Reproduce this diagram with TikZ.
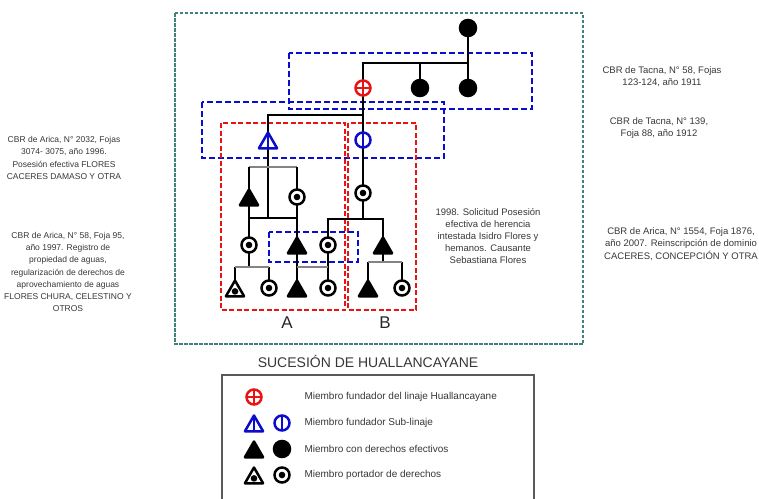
\documentclass[tikz,border=0pt]{standalone}
\usepackage{fontspec}
\setmainfont{Liberation Sans}
\usetikzlibrary{shapes.geometric,backgrounds}

\definecolor{tealbox}{RGB}{64,130,122}
\definecolor{redbox}{RGB}{232,20,20}
\definecolor{bluebox}{RGB}{12,12,205}
\definecolor{linegray}{RGB}{132,132,132}
\definecolor{txtgray}{RGB}{55,55,55}

\begin{document}
\begin{tikzpicture}[
    x=1pt, y=-1pt,
    every node/.style={align=center, text=txtgray},
    sym/.style={inner sep=0pt, outer sep=0pt, line width=2.5pt, draw=black},
    circ/.style={sym, circle, minimum size=15pt},
    tri/.style={sym, regular polygon, regular polygon sides=3, minimum size=21pt, line join=round},
    effTri/.style={tri, fill=black},
    effCirc/.style={circ, fill=black, minimum size=16pt},
    portCirc/.style={circ, fill=white, path picture={\fill[black] (path picture bounding box.center) circle (3.3pt);}},
    portTri/.style={tri, fill=white, path picture={\fill[black] ([yshift=-3pt]path picture bounding box.center) circle (3.3pt);}},
    subTri/.style={tri, draw=bluebox, fill=white, path picture={\draw[bluebox, line width=2.2pt] (path picture bounding box.north) -- (path picture bounding box.south);}},
    subCirc/.style={circ, draw=bluebox, fill=white, path picture={\draw[bluebox, line width=2.2pt] (path picture bounding box.north) -- (path picture bounding box.south);}},
    founder/.style={circ, draw=redbox, fill=white, path picture={\draw[redbox, line width=2.2pt] (path picture bounding box.north) -- (path picture bounding box.south) (path picture bounding box.west) -- (path picture bounding box.east);}},
    conn/.style={draw=black, line width=2.4pt},
    gconn/.style={draw=linegray, line width=2.4pt},
    boxTeal/.style={draw=tealbox, line width=2.2pt, dash pattern=on 3.5pt off 1.5pt},
    boxBlue/.style={draw=bluebox, line width=2pt, dash pattern=on 6pt off 3pt},
    boxRed/.style={draw=redbox, line width=2pt, dash pattern=on 5pt off 2.5pt},
    legbox/.style={draw=black!65, line width=1.2pt},
    note/.style={font=\fontsize{8.5}{12.3}\selectfont},
    rnote/.style={font=\fontsize{9.5}{12.3}\selectfont},
    mnote/.style={font=\fontsize{9.5}{12}\selectfont},
    legtext/.style={anchor=west, font=\fontsize{10}{11}\selectfont},
    branch/.style={font=\fontsize{17}{17}\selectfont, text=black!85}
]
\useasboundingbox (0,0) rectangle (759,498);

\node [effCirc] (anc) at (468,28) {};
\node [founder] (fnd) at (363,88) {};
\node [effCirc] (sib1) at (420,88) {};
\node [effCirc] (sib2) at (468,88) {};
\node [subTri] (subA) at (268,143) {};
\node [subCirc] (subB) at (363,140) {};
\node [effTri] (a1) at (249,200) {};
\node [portCirc] (a2) at (297,197) {};
\node [portCirc] (a3) at (249,245) {};
\node [effTri] (a4) at (297,248) {};
\node [portCirc] (a5) at (328,245) {};
\node [portTri] (a6) at (235,291) {};
\node [portCirc] (a7) at (269,288) {};
\node [effTri] (a8) at (297,291) {};
\node [portCirc] (a9) at (328,288) {};
\node [portCirc] (b1) at (363,193) {};
\node [effTri] (b2) at (383,248) {};
\node [effTri] (b3) at (368,291) {};
\node [portCirc] (b4) at (402,288) {};

\coordinate (jTop) at (468,63);
\coordinate (jSub) at (363,115);
\coordinate (jA) at (268,167);
\coordinate (jA2) at (268,218);
\coordinate (jA3) at (249,267);
\coordinate (jB) at (363,219);
\coordinate (jB2) at (383,262);

\begin{scope}[on background layer]
\draw [boxTeal] (175,13) rectangle (583,344);
\draw [boxBlue] (289,53) rectangle (532,109);
\draw [boxBlue] (202,102) rectangle (444,158);
\draw [boxRed] (221,123) rectangle (345,310);
\draw [boxRed] (348,123) rectangle (416,310);
\draw [boxBlue] (269,232) rectangle (358,262);

\draw [conn] (anc.center) -- (sib2.center);
\draw [conn] (fnd.center) |- (jTop);
\draw [conn] (sib1.center) -- (sib1.center |- jTop);
\draw [conn] (fnd.center) -- (subB.center) -- (b1.center) -- (jB);
\draw [conn] (subA.center) |- (jSub);
\draw [conn] (subA.center) -- (jA2);
\draw [gconn] (a1.center |- jA) -- (a2.center |- jA);
\draw [conn] (a1.center |- jA) -- (a1.center) -- (a3.center) -- (a3.center |- jA3);
\draw [conn] (a2.center |- jA) -- (a2.center) -- (a4.center) -- (a8.center);
\draw [conn] (a1.center |- jA2) -- (a2.center |- jA2);
\draw [conn] (a9.center) -- (a5.center) |- (jB) -| (b2.center);
\draw [conn] (b2.center) -- (jB2);
\draw [conn] (a6.center) -- (a6.center |- jA3);
\draw [conn] (a7.center) -- (a7.center |- jA3);
\draw [gconn] (a6.center |- jA3) -- (a7.center |- jA3);
\draw [gconn] (a4.center |- jA3) -- (a5.center |- jA3);
\draw [conn] (b3.center) -- (b3.center |- jB2);
\draw [conn] (b4.center) -- (b4.center |- jB2);
\draw [gconn] (b3.center |- jB2) -- (b4.center |- jB2);
\end{scope}

\node [branch] (lblA) at (287,323) {A};
\node [branch] (lblB) at (385,323) {B};

\node [note] (srcArica1) at (64,158) {CBR de Arica, N° 2032, Fojas\\3074- 3075, año 1996.\\Posesión efectiva FLORES\\CACERES DAMASO Y OTRA};
\node [note] (srcArica2) at (68,272) {CBR de Arica, N° 58, Foja 95,\\año 1997. Registro de\\propiedad de aguas,\\regularización de derechos de\\aprovechamiento de aguas\\FLORES CHURA, CELESTINO Y\\OTROS};
\node [rnote] (srcTacna1) at (662,77) {CBR de Tacna, N° 58, Fojas\\123-124, año 1911};
\node [rnote] (srcTacna2) at (659,128) {CBR de Tacna, N° 139,\\Foja 88, año 1912};
\node [rnote] (srcArica3) at (681,244) {CBR de Arica, N° 1554, Foja 1876,\\año 2007. Reinscripción de dominio\\CACERES, CONCEPCIÓN Y OTRA};
\node [mnote] (srcMid) at (488,236) {1998. Solicitud Posesión\\efectiva de herencia\\intestada Isidro Flores y\\hemanos. Causante\\Sebastiana Flores};

\node [font=\fontsize{14}{14}\selectfont] (title) at (368,361) {SUCESIÓN DE HUALLANCAYANE};

\draw [legbox] (222,375) rectangle (534,512);
\node [founder] (kFnd) at (254,397) {};
\node [subTri] (kSubTri) at (254,426) {};
\node [subCirc] (kSubCirc) at (282,423) {};
\node [effTri] (kEffTri) at (254,452) {};
\node [effCirc] (kEffCirc) at (282,449) {};
\node [portTri] (kPortTri) at (254,478) {};
\node [portCirc] (kPortCirc) at (282,475) {};
\node [legtext] (tFnd) at (301,397) {Miembro fundador del linaje Huallancayane};
\node [legtext] (tSub) at (301,423) {Miembro fundador Sub-linaje};
\node [legtext] (tEff) at (301,449) {Miembro con derechos efectivos};
\node [legtext] (tPort) at (301,475) {Miembro portador de derechos};
\end{tikzpicture}
\end{document}
